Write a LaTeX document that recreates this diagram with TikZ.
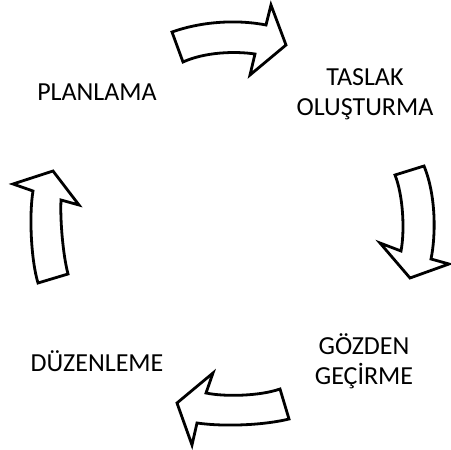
\documentclass[tikz,border=0pt]{standalone}
\usepackage{fontspec}
\setmainfont{Carlito}

\tikzset{
  asama/.style = {align=center, font=\fontsize{26}{30}\selectfont, inner sep=0pt},
  blokok/.style = {draw=black, fill=white, line width=2.8pt, line join=miter}
}

\begin{document}
\begin{tikzpicture}[x=1pt, y=-1pt]
  \useasboundingbox (0,0) rectangle (451,450);

  % stage names
  \node[asama] (planlama)  at (97,92)  {PLANLAMA};
  \node[asama] (taslak)    at (365,94) {TASLAK\\OLUŞTURMA};
  \node[asama] (gozden)    at (364,361) {GÖZDEN\\GEÇİRME};
  \node[asama] (duzenleme) at (97,361) {DÜZENLEME};

  % top arrow
  \draw[blokok] (172,32) .. controls (200,22) and (235,19) .. (266,25)
    -- (271,5) -- (286,45) -- (250,75) -- (255,54)
    .. controls (235,51) and (205,52) .. (183,62) -- cycle;

  % right arrow
  \draw[blokok] (395,175) -- (424,166)
    .. controls (436,195) and (436,235) .. (431,259)
    -- (449,264) -- (410,278) -- (380,243) -- (401,251)
    .. controls (405,230) and (403,195) .. cycle;

  % bottom arrow
  \draw[blokok] (280,389) -- (289,419)
    .. controls (265,425) and (225,427) .. (197,423)
    -- (192,445) -- (177,403) -- (213,373) -- (206,393)
    .. controls (225,397) and (260,396) .. cycle;

  % left arrow
  \draw[blokok] (38,283) -- (68,274)
    .. controls (63,255) and (60,220) .. (61,200)
    -- (79,205) -- (53,171) -- (13,184) -- (33,191)
    .. controls (29,215) and (31,260) .. cycle;

\end{tikzpicture}
\end{document}
